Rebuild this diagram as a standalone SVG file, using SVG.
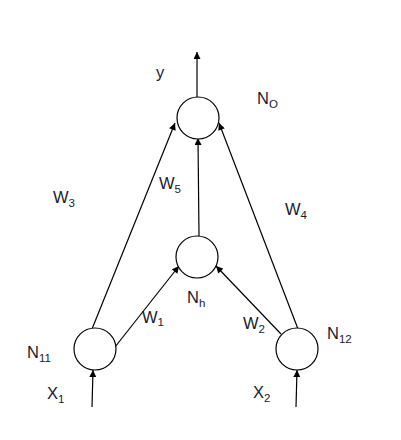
<svg xmlns="http://www.w3.org/2000/svg" width="401" height="440" viewBox="0 0 401 440">
<defs>
<marker id="ah" viewBox="0 0 10 10" refX="10" refY="5" markerWidth="8" markerHeight="7" markerUnits="userSpaceOnUse" orient="auto">
<path d="M0,0 L10,5 L0,10 z" fill="#000"/>
</marker>
</defs>
<style>
.n{fill:#fff;stroke:#000;stroke-width:1.2}
.c{stroke:#000;stroke-width:1.2;fill:none;marker-end:url(#ah)}
text{font-family:"Liberation Sans","DejaVu Sans",sans-serif;font-size:16.5px;fill:#1a1a33}
.s{font-size:11.5px}
</style>
<rect width="401" height="440" fill="#fff"/>
<g id="connectors">
<line class="c" x1="197" y1="97" x2="197" y2="52"/>
<line class="c" x1="92" y1="329" x2="175" y2="123"/>
<line class="c" x1="115" y1="347" x2="179" y2="266"/>
<line class="c" x1="298" y1="329" x2="219" y2="123"/>
<line class="c" x1="281" y1="334" x2="216" y2="266"/>
<line class="c" x1="199" y1="236" x2="198" y2="138"/>
<line class="c" x1="92" y1="407" x2="93" y2="370"/>
<line class="c" x1="296" y1="407" x2="297" y2="370"/>
</g>
<g id="N_O">
<circle class="n" cx="198" cy="118" r="21"/>
<text x="257" y="104">N<tspan class="s" dy="4">O</tspan></text>
</g>
<g id="N_h">
<circle class="n" cx="197" cy="257" r="21"/>
<text x="187" y="303">N<tspan class="s" dy="4">h</tspan></text>
</g>
<g id="N11">
<circle class="n" cx="95" cy="349" r="21"/>
<text x="27" y="358">N<tspan class="s" dy="4">11</tspan></text>
</g>
<g id="N12">
<circle class="n" cx="297" cy="349" r="21"/>
<text x="327" y="339">N<tspan class="s" dy="4">12</tspan></text>
</g>
<g id="labels">
<text x="156" y="78">y</text>
<text x="53" y="203">W<tspan class="s" dy="4">3</tspan></text>
<text x="159" y="189">W<tspan class="s" dy="4">5</tspan></text>
<text x="285" y="215">W<tspan class="s" dy="4">4</tspan></text>
<text x="142" y="323">W<tspan class="s" dy="3">1</tspan></text>
<text x="243" y="329">W<tspan class="s" dy="4">2</tspan></text>
<text x="47" y="399">X<tspan class="s" dy="4">1</tspan></text>
<text x="253" y="398">X<tspan class="s" dy="4">2</tspan></text>
</g>
</svg>
